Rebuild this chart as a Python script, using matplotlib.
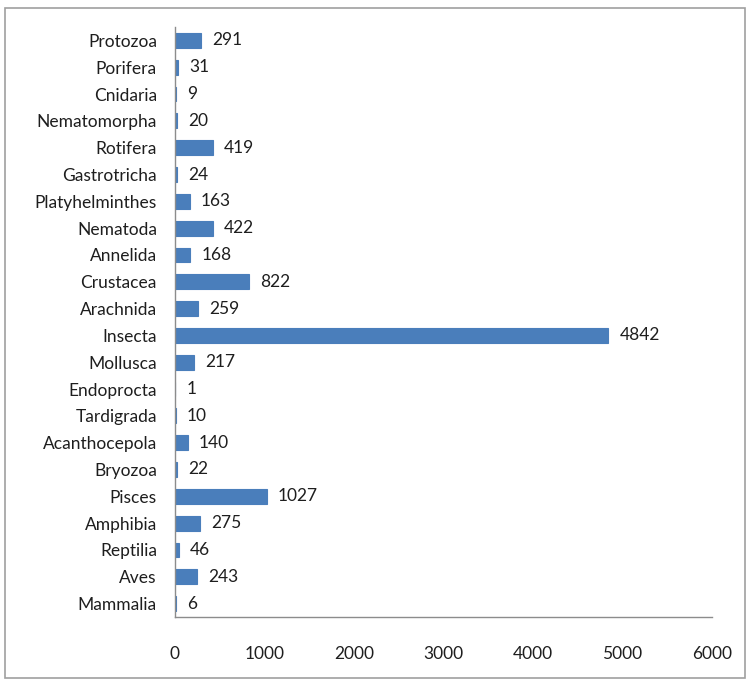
import matplotlib
matplotlib.use("Agg")
import matplotlib.pyplot as plt
from matplotlib.patches import Rectangle

categories = ["Protozoa", "Porifera", "Cnidaria", "Nematomorpha", "Rotifera",
              "Gastrotricha", "Platyhelminthes", "Nematoda", "Annelida",
              "Crustacea", "Arachnida", "Insecta", "Mollusca", "Endoprocta",
              "Tardigrada", "Acanthocepola", "Bryozoa", "Pisces", "Amphibia",
              "Reptilia", "Aves", "Mammalia"]
values = [291, 31, 9, 20, 419, 24, 163, 422, 168, 822, 259, 4842, 217, 1,
          10, 140, 22, 1027, 275, 46, 243, 6]
x_ticks = [0, 1000, 2000, 3000, 4000, 5000, 6000]

plt.rcParams["font.family"] = ["Lato", "DejaVu Sans"]

fig = plt.figure(figsize=(7.46, 6.8), dpi=100)
ax = fig.add_axes([175 / 746, 1 - 617 / 680, (712 - 175) / 746, (617 - 27) / 680])

pos = list(range(len(categories)))
ax.barh(pos, values, height=0.55, color="#4a7ebb", edgecolor="#4a7ebb",
        linewidth=0.8, zorder=2)
for p, v in zip(pos, values):
    ax.annotate(str(v), (v, p), xytext=(8, 0), textcoords="offset points",
                ha="left", va="center", fontsize=12.5, color="#1e1e1e")

ax.set_yticks(pos)
ax.set_yticklabels(categories, fontsize=12.5, color="#1e1e1e")
ax.set_ylim(len(categories) - 0.5, -0.5)
ax.set_xlim(0, 6000)
ax.set_xticks(x_ticks)
ax.set_xticklabels([str(t) for t in x_ticks], fontsize=12.5, color="#1e1e1e")
ax.tick_params(axis="x", length=0, pad=21)
ax.tick_params(axis="y", length=0, pad=13)

for side in ("top", "right"):
    ax.spines[side].set_visible(False)
for side in ("left", "bottom"):
    ax.spines[side].set_color("#8c8c8c")
    ax.spines[side].set_linewidth(1.0)

fig.patches.append(Rectangle((5 / 746, 2 / 680), 740 / 746, 670 / 680,
                             transform=fig.transFigure, fill=False,
                             edgecolor="#a0a0a0", linewidth=1.2))

fig.savefig("out.png", dpi=100)
